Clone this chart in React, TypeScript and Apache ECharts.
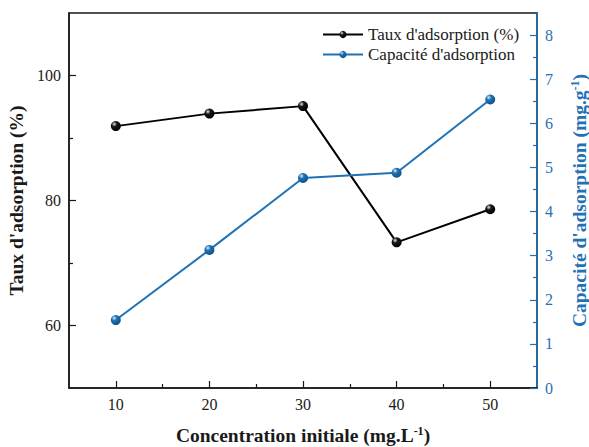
import React, { useEffect, useRef } from "react";
import * as echarts from "echarts";

// Initial concentration (mg.L-1)
const concentrations = [10, 20, 30, 40, 50];
// Adsorption rate (%)
const tauxAdsorption = [91.9, 93.9, 95.1, 73.3, 78.6];
// Adsorption capacity (mg.g-1)
const capaciteAdsorption = [1.54, 3.13, 4.76, 4.88, 6.54];

const xMajorTicks = [10, 20, 30, 40, 50];
const xMinorTicks = [15, 25, 35, 45];
const tauxMajorTicks = [60, 80, 100];
const tauxMinorTicks = [70, 90];
const capaciteMajorTicks = [0, 1, 2, 3, 4, 5, 6, 7, 8];
const capaciteMinorTicks = [0.5, 1.5, 2.5, 3.5, 4.5, 5.5, 6.5, 7.5];

const FONT = "Liberation Serif";
const DARK = "#1a1a1a";
const BLUE = "#1f72b5";
const TITLE_SIZE = 19.5;
const TICK_SIZE = 16;

const sphere = (hi: string, base: string, dark: string) =>
  new echarts.graphic.RadialGradient(0.35, 0.3, 0.75, [
    { offset: 0, color: hi },
    { offset: 0.35, color: base },
    { offset: 1, color: dark },
  ]);

export default function App() {
  const ref = useRef<HTMLDivElement>(null);

  useEffect(() => {
    document.body.style.margin = "0";
    if (!ref.current) return;
    const chart = echarts.init(ref.current, undefined, { renderer: "svg" });

    const supStyle = (color: string) => ({
      fontSize: 12,
      fontWeight: "bold" as const,
      fontFamily: FONT,
      color,
      verticalAlign: "top" as const,
      lineHeight: 16,
    });

    const xBase = {
      type: "value" as const,
      min: 5,
      max: 55,
      position: "bottom" as const,
      splitLine: { show: false },
    };
    const tauxBase = {
      type: "value" as const,
      min: 50,
      max: 110,
      position: "left" as const,
      splitLine: { show: false },
    };
    const capaciteBase = {
      type: "value" as const,
      min: 0,
      max: 8.5,
      position: "right" as const,
      splitLine: { show: false },
    };

    chart.setOption({
      animation: false,
      backgroundColor: "#ffffff",
      textStyle: { fontFamily: FONT },
      grid: {
        left: 69,
        right: 52,
        top: 13,
        bottom: 59,
        show: true,
        borderColor: DARK,
        borderWidth: 1.5,
        backgroundColor: "transparent",
        containLabel: false,
        outerBoundsMode: "none",
      },
      legend: {
        left: 317,
        top: 21,
        orient: "vertical",
        itemWidth: 40,
        itemHeight: 9,
        itemGap: 3,
        textStyle: { fontFamily: FONT, fontSize: 17, color: DARK },
        data: ["Taux d'adsorption (%)", "Capacité d'adsorption"],
      },
      xAxis: [
        {
          ...xBase,
          name: "Concentration initiale (mg.L{sup|-1})",
          nameLocation: "middle",
          nameGap: 37,
          nameTextStyle: {
            fontFamily: FONT,
            fontSize: TITLE_SIZE,
            fontWeight: "bold",
            color: DARK,
            rich: { sup: supStyle(DARK) },
          },
          axisLine: { show: true, lineStyle: { color: DARK, width: 1.5 } },
          axisTick: {
            show: true,
            inside: true,
            length: 7,
            customValues: xMajorTicks,
            lineStyle: { color: DARK, width: 1.2 },
          },
          axisLabel: {
            customValues: xMajorTicks,
            margin: 8,
            fontFamily: FONT,
            fontSize: TICK_SIZE,
            color: DARK,
          },
        },
        {
          ...xBase,
          axisLine: { show: false },
          axisLabel: { show: false },
          axisTick: {
            show: true,
            inside: true,
            length: 4,
            customValues: xMinorTicks,
            lineStyle: { color: DARK, width: 1.2 },
          },
        },
      ],
      yAxis: [
        {
          ...tauxBase,
          name: "Taux d'adsorption (%)",
          nameLocation: "middle",
          nameGap: 42,
          nameTextStyle: {
            fontFamily: FONT,
            fontSize: TITLE_SIZE,
            fontWeight: "bold",
            color: DARK,
          },
          axisLine: { show: true, lineStyle: { color: DARK, width: 1.5 } },
          axisTick: {
            show: true,
            inside: true,
            length: 7,
            customValues: tauxMajorTicks,
            lineStyle: { color: DARK, width: 1.2 },
          },
          axisLabel: {
            customValues: tauxMajorTicks,
            margin: 8,
            fontFamily: FONT,
            fontSize: TICK_SIZE,
            color: DARK,
          },
        },
        {
          ...capaciteBase,
          name: "Capacité d'adsorption (mg.g{sup|-1})",
          nameLocation: "middle",
          nameGap: 32,
          nameTextStyle: {
            fontFamily: FONT,
            fontSize: TITLE_SIZE,
            fontWeight: "bold",
            color: BLUE,
            rich: { sup: supStyle(BLUE) },
          },
          axisLine: { show: true, lineStyle: { color: BLUE, width: 1.5 } },
          axisTick: {
            show: true,
            inside: true,
            length: 7,
            customValues: capaciteMajorTicks,
            lineStyle: { color: BLUE, width: 1.2 },
          },
          axisLabel: {
            customValues: capaciteMajorTicks,
            margin: 8,
            fontFamily: FONT,
            fontSize: TICK_SIZE,
            color: BLUE,
          },
        },
        {
          ...tauxBase,
          axisLine: { show: false },
          axisLabel: { show: false },
          axisTick: {
            show: true,
            inside: true,
            length: 4,
            customValues: tauxMinorTicks,
            lineStyle: { color: DARK, width: 1.2 },
          },
        },
        {
          ...capaciteBase,
          axisLine: { show: false },
          axisLabel: { show: false },
          axisTick: {
            show: true,
            inside: true,
            length: 4,
            customValues: capaciteMinorTicks,
            lineStyle: { color: BLUE, width: 1.2 },
          },
        },
      ],
      series: [
        {
          name: "Taux d'adsorption (%)",
          type: "line",
          xAxisIndex: 0,
          yAxisIndex: 0,
          data: concentrations.map((c, i) => [c, tauxAdsorption[i]]),
          symbol: "circle",
          symbolSize: 10,
          lineStyle: { color: "#000000", width: 2 },
          itemStyle: { color: sphere("#e6e6e6", "#151515", "#000000") },
          z: 3,
        },
        {
          name: "Capacité d'adsorption",
          type: "line",
          xAxisIndex: 0,
          yAxisIndex: 1,
          data: concentrations.map((c, i) => [c, capaciteAdsorption[i]]),
          symbol: "circle",
          symbolSize: 10,
          lineStyle: { color: BLUE, width: 2 },
          itemStyle: { color: sphere("#d8ecfa", BLUE, "#0e4e85") },
          z: 3,
        },
      ],
    });

    return () => chart.dispose();
  }, []);

  return <div ref={ref} style={{ width: 589, height: 447 }} />;
}
